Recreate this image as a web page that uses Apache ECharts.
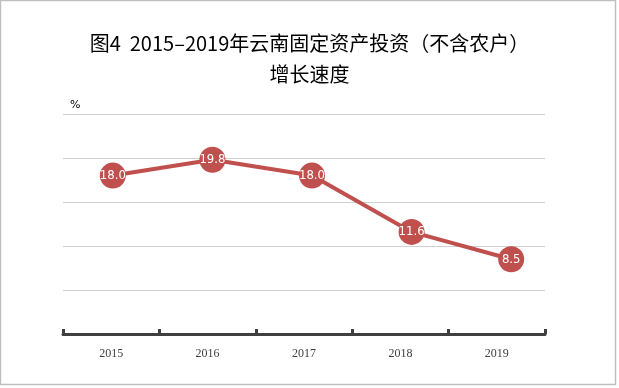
<!DOCTYPE html>
<html><head><meta charset="utf-8">
<script src="https://cdn.jsdelivr.net/npm/echarts@6/dist/echarts.min.js"></script>
<style>html,body{margin:0;padding:0;background:#fff}#c{width:619px;height:388px}</style>
</head><body><div id="c"></div>
<script>
const titleLines = ['图4  2015–2019年云南固定资产投资（不含农户）', '增长速度'];
const years = ['2015', '2016', '2017', '2018', '2019'];
const growth = [18.0, 19.8, 18.0, 11.6, 8.5];
const yUnit = '%';

const chart = echarts.init(document.getElementById('c'), null, {renderer: 'canvas'});
chart.setOption({
  backgroundColor: '#fff',
  animation: false,
  title: {
    text: titleLines.join('\n'),
    left: 'center', top: 23,
    textStyle: {fontFamily: 'Noto Sans CJK SC', fontSize: 20, fontWeight: 'normal', color: '#000', lineHeight: 31}
  },
  graphic: [
    {type: 'rect', shape: {x: 0.5, y: 0.5, width: 615, height: 384}, style: {fill: 'none', stroke: '#bfbfbf', lineWidth: 1.5}, silent: true},
    {type: 'text', left: 70, top: 100, style: {text: yUnit, font: '11px "DejaVu Sans"', fill: '#000'}}
  ],
  grid: [
    {left: 63, right: 74, top: 114, bottom: 54},
    {left: 63, right: 58, top: 114, bottom: 54}
  ],
  xAxis: [{
    type: 'category', data: years, boundaryGap: true, gridIndex: 0,
    axisLine: {lineStyle: {color: '#404040', width: 3}},
    axisTick: {show: true, inside: true, length: 5, lineStyle: {color: '#404040', width: 3}},
    axisLabel: {margin: 14, fontFamily: 'Liberation Serif', fontSize: 12, color: '#404040'}
  }, {
    type: 'category', data: years, boundaryGap: true, gridIndex: 1, show: false
  }],
  yAxis: [{
    type: 'value', min: 0, max: 25, interval: 5, gridIndex: 0,
    axisLine: {show: false}, axisTick: {show: false}, axisLabel: {show: false},
    splitLine: {lineStyle: {color: '#d0d0d0', width: 1}}
  }, {
    type: 'value', min: 0, max: 25, interval: 5, gridIndex: 1, show: false, splitLine: {show: false}
  }],
  series: [{
    type: 'line', data: growth, xAxisIndex: 1, yAxisIndex: 1,
    lineStyle: {color: '#c0504d', width: 4},
    itemStyle: {color: '#c0504d'},
    symbol: 'circle', symbolSize: 26,
    label: {show: true, position: 'inside', color: '#fff', fontFamily: 'DejaVu Sans Condensed', fontSize: 13,
      formatter: p => p.value.toFixed(1)}
  }]
});
</script></body></html>
